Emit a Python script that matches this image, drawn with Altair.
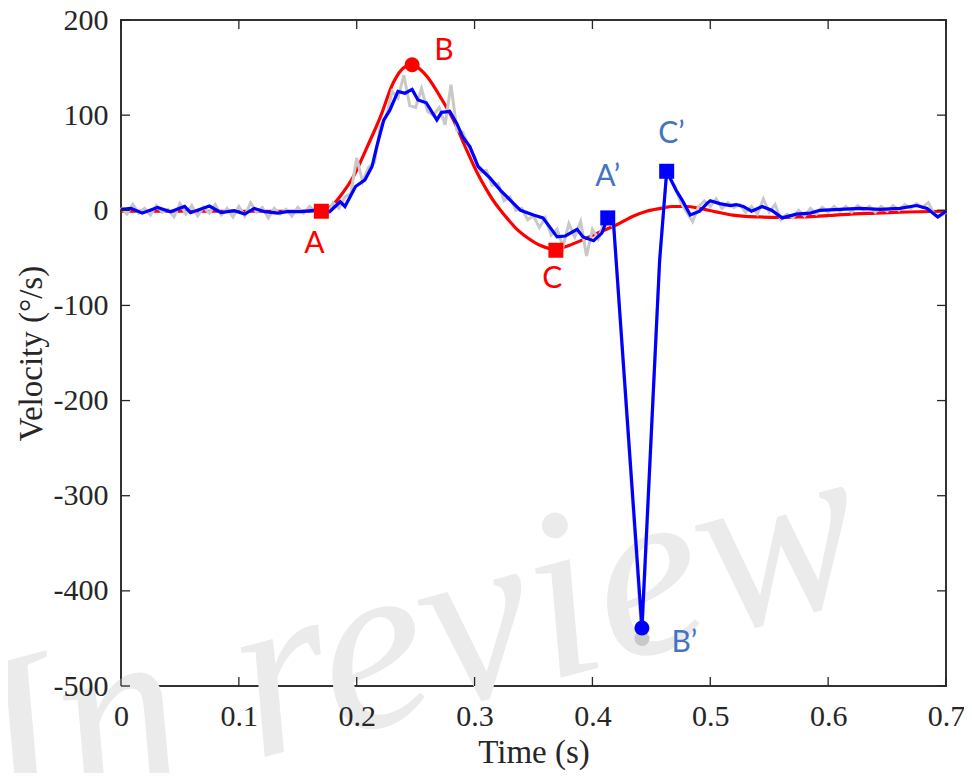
import altair as alt
import pandas as pd

# ---- data ----
red_t = [0.000, 0.050, 0.100, 0.150, 0.170, 0.180, 0.188, 0.197, 0.209, 0.220, 0.231, 0.240, 0.247,
         0.254, 0.260, 0.271, 0.282, 0.292, 0.302, 0.310, 0.316, 0.322, 0.328, 0.336, 0.344, 0.356,
         0.368, 0.380, 0.390, 0.406, 0.421, 0.435, 0.446, 0.458, 0.468, 0.480, 0.491, 0.506, 0.519,
         0.542, 0.560, 0.576, 0.600, 0.619, 0.640, 0.661, 0.700]
red_v = [-1, -1, -1, -1, 0, 6, 18, 35, 67, 98, 134, 150, 153,
         148, 140, 119, 95, 67, 40, 22, 10, 0, -9, -20, -28, -37,
         -41, -37, -32, -23, -15, -6, -1, 2, 4, 4, 2, -2, -5,
         -7, -7.5, -7, -5.5, -4, -3, -2, -1]

blue_t = [0.000, 0.0085, 0.018, 0.031, 0.042, 0.054, 0.059, 0.075, 0.085, 0.096, 0.105, 0.113, 0.122,
          0.133, 0.141, 0.153, 0.164, 0.170, 0.177, 0.186, 0.190, 0.199, 0.207, 0.213, 0.217, 0.223,
          0.228, 0.235, 0.241, 0.247, 0.252, 0.259, 0.268, 0.272, 0.279, 0.285, 0.290, 0.296, 0.303,
          0.313, 0.322, 0.330, 0.339, 0.350, 0.358, 0.370, 0.377, 0.387, 0.392, 0.401, 0.408, 0.413,
          0.418, 0.442, 0.457, 0.463, 0.471, 0.476, 0.483, 0.491, 0.497, 0.500, 0.508, 0.517, 0.522,
          0.528, 0.535, 0.544, 0.552, 0.561, 0.573, 0.585, 0.593, 0.610, 0.627, 0.644, 0.661, 0.675,
          0.684, 0.693, 0.700]
blue_v = [1, 2, -3, 3, -1.5, 4, -2.5, 4.5, -2.5, -0.5, -4, 2, -1.5,
          -3, -1.5, -1.5, 0, 0, -1.5, 9, 4, 25, 32, 46, 67, 95,
          105, 125, 123, 127, 116, 113, 95, 103, 104, 91, 77, 67, 46,
          34, 21, 11, 0, -5, -8, -28, -27, -20, -28, -32, -24, -8,
          -15, -439, -53, 41, 21, 11, -5, -1, 7, 10, 7, 5, 6,
          4, -1, 4, 0, -8, -4, -3, 0, 1, 2, 1, 2, 5,
          2, -7, -1]

gray_t = [0.000, 0.005, 0.010, 0.015, 0.020, 0.025, 0.030, 0.035, 0.040, 0.045, 0.050, 0.055, 0.060,
          0.065, 0.070, 0.075, 0.080, 0.085, 0.090, 0.095, 0.100, 0.105, 0.110, 0.115, 0.120, 0.125,
          0.130, 0.135, 0.140, 0.145, 0.150, 0.155, 0.160, 0.165, 0.170, 0.175, 0.180, 0.185, 0.190,
          0.195, 0.200, 0.205, 0.210, 0.215, 0.220, 0.225, 0.230, 0.235, 0.240, 0.245, 0.250, 0.255,
          0.260, 0.265, 0.270, 0.275, 0.280, 0.285, 0.290, 0.295, 0.300, 0.305, 0.310, 0.315, 0.320,
          0.325, 0.330, 0.335, 0.340, 0.345, 0.350, 0.355, 0.360, 0.365, 0.370, 0.375, 0.380, 0.385,
          0.390, 0.395, 0.400, 0.405, 0.410, 0.413, 0.418, 0.442, 0.457, 0.463, 0.470, 0.475, 0.480,
          0.485, 0.490, 0.495, 0.500, 0.505, 0.510, 0.515, 0.520, 0.525, 0.530, 0.535, 0.540, 0.545,
          0.550, 0.555, 0.560, 0.565, 0.570, 0.575, 0.580, 0.585, 0.590, 0.595, 0.600, 0.605, 0.610,
          0.615, 0.620, 0.625, 0.630, 0.635, 0.640, 0.645, 0.650, 0.655, 0.660, 0.665, 0.670, 0.675,
          0.680, 0.685, 0.690, 0.695, 0.700]
gray_v = [3, -4, 6, -3, 2, -5, 5, -2, 1, -7, 7, -4, 5,
          -6, 3, -3, 6, -5, 2, -7, 4, -6, 8, -2, 3, -8,
          2, -4, 1, -6, 3, -3, 4, -2, 2, -4, 8, 2, 14,
          18, 55, 30, 45, 50, 88, 98, 125, 118, 142, 110, 108, 128,
          104, 100, 108, 90, 132, 84, 82, 66, 56, 40, 42, 26, 28,
          10, 14, 0, 2, -10, -6, -18, -8, -26, -20, -38, -14, -28,
          -12, -48, -20, -30, -12, -10, -18, -450, -55, 40, 25, 8, -2,
          -12, 4, 10, 4, 12, 2, 8, 3, 6, -2, 4, -4, 12,
          -2, 6, -10, -4, -8, 0, -6, 2, -4, 3, -2, 4, -1,
          4, -2, 5, 0, 4, -2, 4, -1, 5, 0, 6, 2, 7,
          3, 8, -4, -6, -2]

mk_name = ["A", "B", "C", "A'", "B'g", "B'", "C'"]
mk_t = [0.170, 0.247, 0.369, 0.413, 0.442, 0.442, 0.463]
mk_v = [-1, 153, -42, -8, -450, -439, 41]
mk_shape = ["square", "circle", "square", "square", "circle", "circle", "square"]
mk_color = ["#FF0000", "#FF0000", "#FF0000", "#0000FF", "#C8C8C8", "#0000FF", "#0000FF"]

lab_text = ["A", "B", "C", "A\u2019", "B\u2019", "C\u2019"]
lab_t = [0.164, 0.274, 0.366, 0.413, 0.478, 0.467]
lab_v = [-35, 167, -72, 35, -455, 80]
lab_color = ["#FF0000", "#FF0000", "#FF0000", "#4472C4", "#4472C4", "#4472C4"]

x_ticks = [0, 0.1, 0.2, 0.3, 0.4, 0.5, 0.6, 0.7]
y_ticks = [-500, -400, -300, -200, -100, 0, 100, 200]

W, H = 825, 666
AX = "#262626"
SERIF = "Liberation Serif, Times New Roman, Times, serif"

xs = alt.Scale(domain=[0, 0.7], nice=False, zero=False)
ys = alt.Scale(domain=[-500, 200], nice=False, zero=False)

xaxis = alt.Axis(values=x_ticks, title="Time (s)", grid=False, ticks=False, tickSize=0, domain=False,
                 labelExpr="'' + datum.value", zindex=1,
                 labelFont=SERIF, labelFontSize=30, labelColor=AX, labelPadding=15,
                 titleFont=SERIF, titleFontSize=33, titleFontWeight="normal", titleColor=AX,
                 titlePadding=5, labelFlush=False)
yaxis = alt.Axis(values=y_ticks, title="Velocity (\u00b0/s)", grid=False, ticks=False, tickSize=0,
                 labelExpr="'' + datum.value", zindex=1,
                 domain=False, labelFont=SERIF, labelFontSize=30, labelColor=AX, labelPadding=13,
                 titleFont=SERIF, titleFontSize=33, titleFontWeight="normal", titleColor=AX,
                 titlePadding=5, labelFlush=False)

red_df = pd.DataFrame({"t": red_t, "v": red_v})
blue_df = pd.DataFrame({"t": blue_t, "v": blue_v})
gray_df = pd.DataFrame({"t": gray_t, "v": gray_v})
mk_df = pd.DataFrame({"name": mk_name, "t": mk_t, "v": mk_v, "shape": mk_shape, "color": mk_color})
lab_df = pd.DataFrame({"text": lab_text, "t": lab_t, "v": lab_v, "color": lab_color})
xt_df = pd.DataFrame({"t": x_ticks})
yt_df = pd.DataFrame({"v": y_ticks})

watermark = alt.Chart(pd.DataFrame({"w": ["In review"]})).mark_text(
    font=SERIF, fontStyle="italic", fontSize=244, color="#EBEBEB", align="left",
    baseline="alphabetic", angle=345
).encode(x=alt.value(-121), y=alt.value(808), text="w:N")

red = alt.Chart(red_df).mark_line(color="#FF0000", strokeWidth=3.2, interpolate="monotone").encode(
    x=alt.X("t:Q", scale=xs, axis=xaxis), y=alt.Y("v:Q", scale=ys, axis=yaxis), order="t:Q")
gray = alt.Chart(gray_df).mark_line(color="#C8C8C8", strokeWidth=3).encode(
    x=alt.X("t:Q", scale=xs), y=alt.Y("v:Q", scale=ys), order="t:Q")
blue = alt.Chart(blue_df).mark_line(color="#0000FF", strokeWidth=3.2).encode(
    x=alt.X("t:Q", scale=xs), y=alt.Y("v:Q", scale=ys), order="t:Q")

markers = alt.Chart(mk_df).mark_point(filled=True, opacity=1, size=225).encode(
    x=alt.X("t:Q", scale=xs), y=alt.Y("v:Q", scale=ys),
    shape=alt.Shape("shape:N", scale=None), color=alt.Color("color:N", scale=None))

labels = alt.Chart(lab_df).mark_text(font="Lato", fontSize=30, align="center", baseline="middle").encode(
    x=alt.X("t:Q", scale=xs), y=alt.Y("v:Q", scale=ys), text="text:N",
    color=alt.Color("color:N", scale=None))

tb = alt.Chart(xt_df).mark_rule(color=AX, strokeWidth=1.3).encode(
    x=alt.X("t:Q", scale=xs), y=alt.value(H), y2=alt.value(H - 9))
tt = alt.Chart(xt_df).mark_rule(color=AX, strokeWidth=1.3).encode(
    x=alt.X("t:Q", scale=xs), y=alt.value(0), y2=alt.value(9))
tl = alt.Chart(yt_df).mark_rule(color=AX, strokeWidth=1.3).encode(
    y=alt.Y("v:Q", scale=ys), x=alt.value(0), x2=alt.value(9))
tr = alt.Chart(yt_df).mark_rule(color=AX, strokeWidth=1.3).encode(
    y=alt.Y("v:Q", scale=ys), x=alt.value(W), x2=alt.value(W - 9))

chart = alt.layer(watermark, red, gray, blue, markers, labels, tb, tt, tl, tr).properties(
    width=W, height=H,
    autosize=alt.AutoSizeParams(type="none"),
    padding={"left": 113, "top": 12, "right": 18, "bottom": 87},
).configure(background="white").configure_view(stroke="#333333", strokeWidth=2)

chart.save("out.html", embed_options={"renderer": "svg", "actions": False})
